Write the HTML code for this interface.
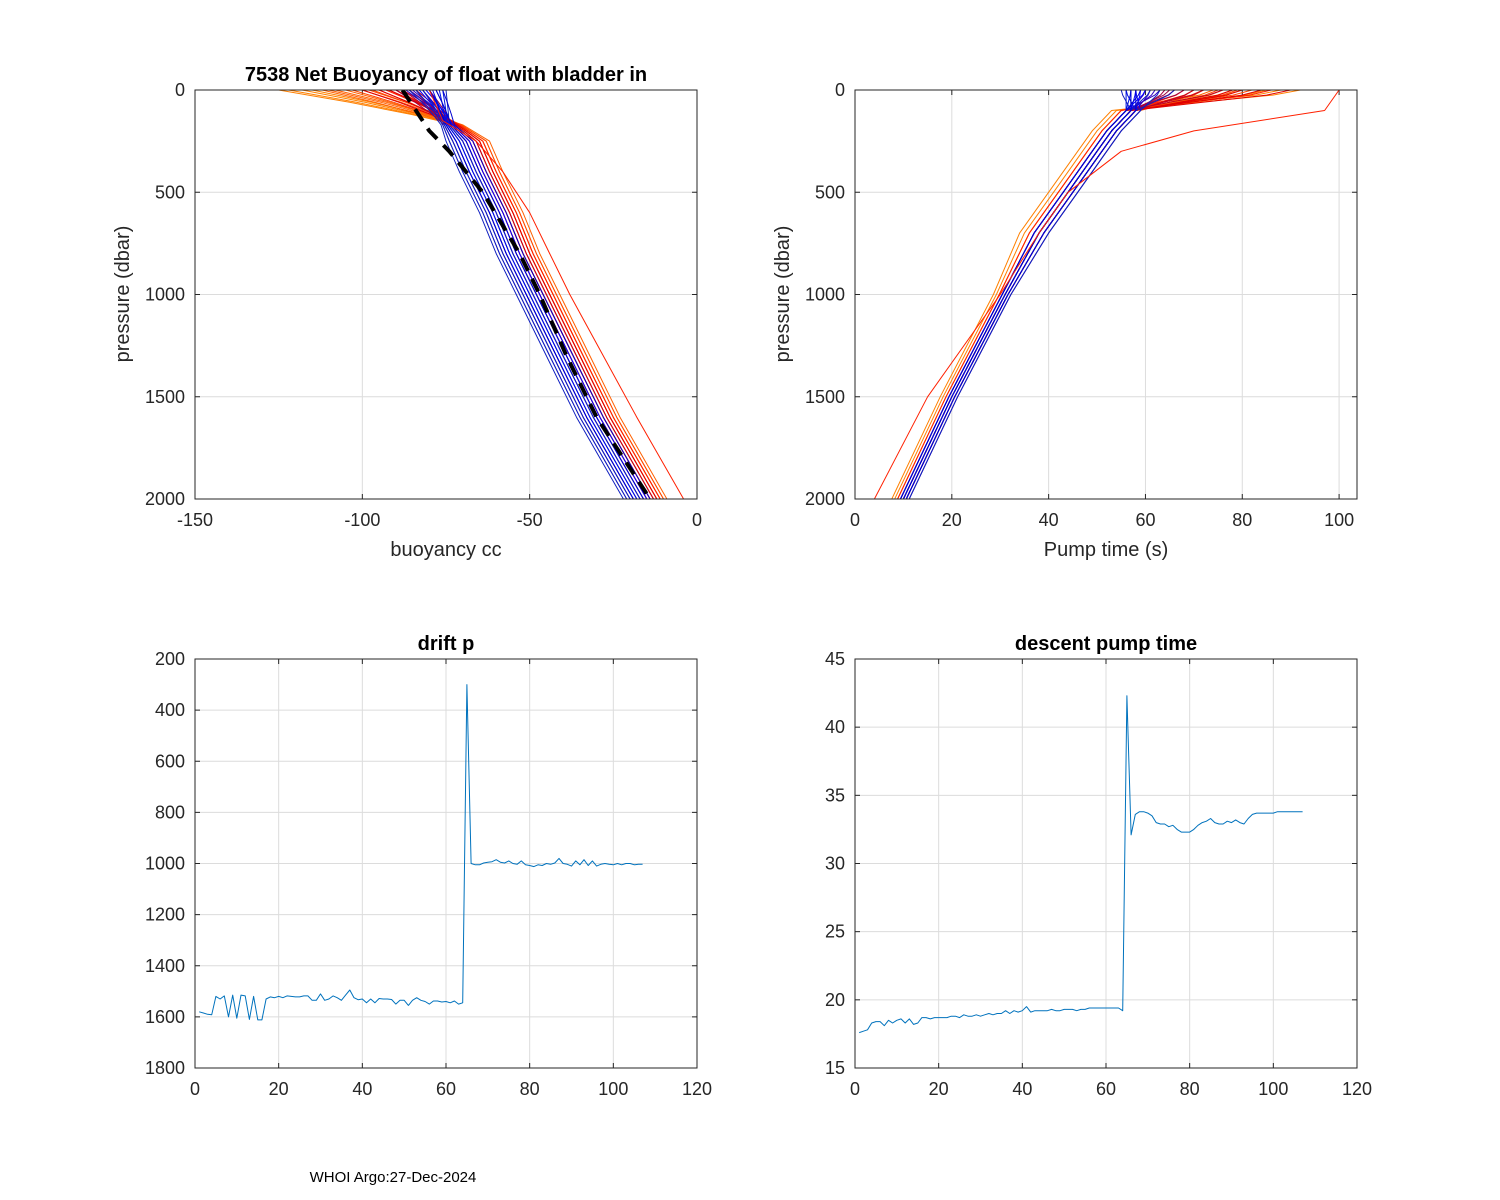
<!DOCTYPE html>
<html><head><meta charset="utf-8"><style>
body{margin:0;background:#fff;}
svg{display:block;font-family:"Liberation Sans",Arial,sans-serif;}
</style></head><body>
<svg id="fig" width="1500" height="1200" xmlns="http://www.w3.org/2000/svg"></svg>
<script>
// ---- data: drift pressure (bottom-left) ----
const driftP = [1580,1585,1590,1592,1520,1530,1518,1600,1515,1605,1515,1518,1610,1520,1612,1612,1530,1522,1525,1520,1525,1518,1520,1522,1522,1518,1518,1535,1535,1510,1535,1530,1518,1525,1535,1515,1495,1525,1533,1530,1545,1530,1545,1528,1530,1530,1532,1550,1535,1535,1555,1535,1525,1535,1540,1550,1538,1538,1542,1540,1545,1538,1550,1545,300,1000,1005,1005,998,995,993,985,995,998,990,1000,1003,990,1005,1008,1012,1005,1008,1000,1003,998,980,1000,1003,1010,990,1005,985,1008,990,1010,1003,1000,1003,1005,1000,1005,1000,1000,1005,1003,1003];
// ---- data: descent pump time (bottom-right) ----
const descT = [17.6,17.7,17.8,18.3,18.4,18.4,18.1,18.5,18.3,18.5,18.6,18.3,18.6,18.2,18.3,18.7,18.7,18.6,18.7,18.7,18.7,18.7,18.8,18.8,18.7,18.9,18.8,18.8,18.9,18.8,18.9,19.0,18.9,19.0,19.0,19.2,19.0,19.2,19.1,19.2,19.5,19.1,19.2,19.2,19.2,19.2,19.3,19.2,19.2,19.3,19.3,19.3,19.2,19.3,19.3,19.4,19.4,19.4,19.4,19.4,19.4,19.4,19.4,19.2,42.3,32.1,33.6,33.8,33.8,33.7,33.5,33.0,32.9,32.9,32.7,32.8,32.5,32.3,32.3,32.3,32.5,32.8,33.0,33.1,33.3,33.0,32.9,32.9,33.1,33.0,33.2,33.0,32.9,33.3,33.6,33.7,33.7,33.7,33.7,33.7,33.8,33.8,33.8,33.8,33.8,33.8,33.8];
// ---- data: buoyancy profiles (top-left) ----
const bPres = [170,250,400,600,800,1000,1300,1600,2000];
const bBase = [-74,-70,-66,-60,-55,-49,-40,-31,-17];
const meanB = [-88,-84,-80,-74,-64,-53,-47,-39,-30,-14];
const meanP = [0,100,200,300,500,800,1000,1300,1600,2000];
// per-profile surface buoyancy and deep offset
const profSurf = [-125,-122,-118,-115,-112,-110,-108,-105,-103,-100,-98,-97,-95,-93,-92,-90,-100,-95,-92,-90,-88,-86,-84,-82,-80,-90,-88,-87,-86,-85,-84,-83,-82,-81,-80,-79,-78,-77,-76,-75,-86,-84,-82,-80,-78,-76];
const profDeep = [4,5,6,7,3,6,8,5,4,6,7,5,3,6,5,4,3,2,5,1,4,2,3,0,2,-3,-2,-1,0,1,-4,-2,-1,2,0,-3,1,-2,-1,0,-5,-4,-3,-2,1,3];
const outB = [-72,-66,-58,-50,-44,-38,-28,-18,-4];
// ---- data: pump time profiles (top-right) ----
const tPres = [2000,1500,1000,700,500,300,200,100];
const tBase = [10,20,31,38,44,50,53,57];
const profT0 = [92,88,85,80,78,76,74,72,70,82,79,75,72,70,68,86,84,80,90,78,76,72,70,68,66,65,64,63,62,61,60,60,59,58,58,57,57,56,56,55,66,63,61,59,58,57];
const profTOff = [-3,-4,-2,-1,0,1,-2,2,0,-1,1,0,-2,1,0,-1,0,1,0,1,-1,0,1,-1,0,0,1,-1,0,1,0,-1,1,0,2,-1,0,1,-1,0,1,2,0,-1,1,0];
const outT = [4,15,30,38,44,55,70,97];

const svg = document.getElementById('fig');
const NS = 'http://www.w3.org/2000/svg';
function mk(tag, attrs, parent){const e=document.createElementNS(NS,tag);for(const k in attrs)e.setAttribute(k,attrs[k]);(parent||svg).appendChild(e);return e;}
function colorFor(i,n){
  const cols=['#ff8000','#ff6000','#ff4500','#ff2000','#e00000','#c00020','#a00040','#3000c0','#0000ff','#0010e0','#1020c0','#0000d0'];
  return cols[Math.min(cols.length-1,Math.floor(i/n*cols.length))];
}
function axes(name,x0,y0,w,h,xmin,xmax,ymin,ymax,yrev,xt,yt){
  const g=mk('g',{});
  
  
  const sx=v=>x0+(v-xmin)/(xmax-xmin)*w;
  const sy=v=>yrev? y0+(v-ymin)/(ymax-ymin)*h : y0+h-(v-ymin)/(ymax-ymin)*h;
  mk('rect',{x:x0,y:y0,width:w,height:h,fill:'#fff'},g);
  xt.forEach(t=>{const x=sx(t);mk('line',{x1:x,x2:x,y1:y0,y2:y0+h,stroke:'#dcdcdc','stroke-width':1},g);
    const tl=mk('text',{x:x,y:y0+h+27,'font-size':18,'text-anchor':'middle',fill:'#262626'},g);tl.textContent=t;
    
    mk('line',{x1:x,x2:x,y1:y0+h,y2:y0+h-5,stroke:'#262626'},g);mk('line',{x1:x,x2:x,y1:y0,y2:y0+5,stroke:'#262626'},g);});
  yt.forEach(t=>{const y=sy(t);mk('line',{x1:x0,x2:x0+w,y1:y,y2:y,stroke:'#dcdcdc','stroke-width':1},g);
    const tl=mk('text',{x:x0-10,y:y+6,'font-size':18,'text-anchor':'end',fill:'#262626'},g);tl.textContent=t;
    
    mk('line',{x1:x0,x2:x0+5,y1:y,y2:y,stroke:'#262626'},g);mk('line',{x1:x0+w,x2:x0+w-5,y1:y,y2:y,stroke:'#262626'},g);});
  const clip='c'+name;const cp=mk('clipPath',{id:clip},g);mk('rect',{x:x0,y:y0,width:w,height:h},cp);
  const plot=mk('g',{'clip-path':'url(#'+clip+')'},g);
  return {g,plot,sx,sy,x0,y0,w,h};
}
function box(a){mk('rect',{x:a.x0,y:a.y0,width:a.w,height:a.h,fill:'none',stroke:'#262626','stroke-width':1},a.g);}
function line(a,pts,color,width,name,dash){
  const p=mk('polyline',{points:pts.map(q=>a.sx(q[0]).toFixed(1)+','+a.sy(q[1]).toFixed(1)).join(' '),fill:'none',stroke:color,'stroke-width':width,'stroke-linejoin':'round'},a.plot);
  if(dash)p.setAttribute('stroke-dasharray',dash);
  
  
  return p;
}
function text(str,x,y,size,opts,name){
  const t=mk('text',Object.assign({x:x,y:y,'font-size':size,fill:'#000','text-anchor':'middle'},opts||{}));
  t.textContent=str;
  
  
  return t;
}

// Top-left
const a1=axes('buoyancy-axes',195,90,502,409,-150,0,0,2000,true,[-150,-100,-50,0],[0,500,1000,1500,2000]);
const n=profSurf.length;
for(let i=0;i<n;i++){
  const k=bBase[0]+profDeep[i]*0.5;
  const pts=[[profSurf[i],0],[profSurf[i]*0.6+k*0.4,60],[profSurf[i]*0.25+k*0.75,120]];
  bPres.forEach((p,j)=>pts.push([bBase[j]+profDeep[i]*(j===0?0.5:1),p]));
  line(a1,pts,colorFor(i,n),1,'buoyancy-profile');
}
line(a1,[[-80,0],[-76,150],...bPres.slice(1).map((p,j)=>[outB[j+1],p])],'#ff2000',1,'buoyancy-outlier-profile');
line(a1,meanP.map((p,j)=>[meanB[j],p]),'#000',4,'mean-buoyancy-profile','14,9');
box(a1);
text('7538 Net Buoyancy of float with bladder in',446,81,20,{'font-weight':'bold'},'buoyancy-title');
text('buoyancy cc',446,556,20,{fill:'#262626'},'buoyancy-x-axis-title');
text('pressure (dbar)',0,0,20,{fill:'#262626',transform:'translate(129,294) rotate(-90)'},'buoyancy-y-axis-title');

// Top-right
const a2=axes('pump-time-axes',855,90,502,409,0,103.7,0,2000,true,[0,20,40,60,80,100],[0,500,1000,1500,2000]);
for(let i=0;i<n;i++){
  const o=profTOff[i];
  const pts=tPres.map((p,j)=>[tBase[j]+o*(j<3?0.6:1),p]);
  const s=tBase[7]+o;
  pts.push([s+(profT0[i]-s)*0.45,60]);
  pts.push([s+(profT0[i]-s)*0.85,25]);
  pts.push([profT0[i],0]);
  line(a2,pts,colorFor(i,n),1,'pump-time-profile');
}
line(a2,[...tPres.map((p,j)=>[outT[j],p]),[100,0],[104,-50]],'#ff2000',1,'pump-time-outlier-profile');
box(a2);
text('Pump time (s)',1106,556,20,{fill:'#262626'},'pump-time-x-axis-title');
text('pressure (dbar)',0,0,20,{fill:'#262626',transform:'translate(789,294) rotate(-90)'},'pump-time-y-axis-title');

// Bottom-left
const a3=axes('drift-pressure-axes',195,659,502,409,0,120,200,1800,true,[0,20,40,60,80,100,120],[200,400,600,800,1000,1200,1400,1600,1800]);
line(a3,driftP.map((v,i)=>[i+1,v]),'#0072bd',1,'drift-pressure-line');
box(a3);
text('drift p',446,650,20,{'font-weight':'bold'},'drift-pressure-title');

// Bottom-right
const a4=axes('descent-pump-axes',855,659,502,409,0,120,15,45,false,[0,20,40,60,80,100,120],[15,20,25,30,35,40,45]);
line(a4,descT.map((v,i)=>[i+1,v]),'#0072bd',1,'descent-pump-line');
box(a4);
text('descent pump time',1106,650,20,{'font-weight':'bold'},'descent-pump-title');

text('WHOI Argo:27-Dec-2024',393,1182,15,{},'footer-credit');
</script>
</body></html>
